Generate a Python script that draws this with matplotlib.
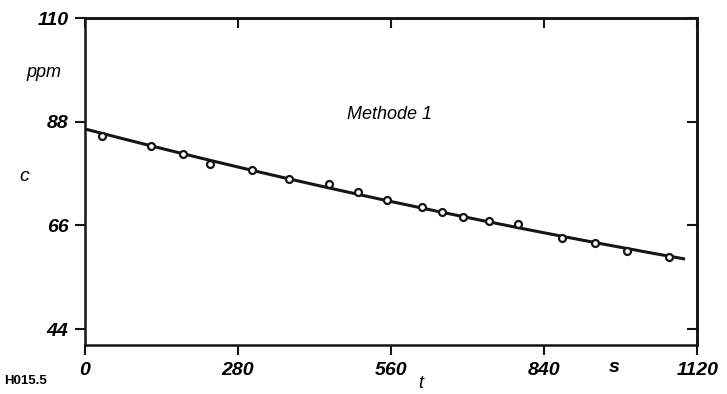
import numpy as np
import matplotlib
matplotlib.use('Agg')
import matplotlib.pyplot as plt

# measured points, Methode 1
t_s = [31, 121, 179, 228, 306, 374, 447, 499, 552, 616, 653, 692, 739, 793, 872, 933, 991, 1068]
c_ppm = [85.0, 82.9, 81.2, 79.1, 77.8, 75.9, 74.7, 73.0, 71.3, 69.9, 68.8, 67.8, 66.9, 66.4, 63.4, 62.3, 60.6, 59.2]

x_ticks = [0, 280, 560, 840, 1120]
y_ticks = [44, 66, 88, 110]

plt.rcParams['font.family'] = ['Liberation Sans', 'DejaVu Sans']

fig = plt.figure(figsize=(7.27, 3.94), dpi=100)
ax = fig.add_axes([0.117, 0.124, 0.842, 0.830])

# exponential fit drawn as the solid line
k, lnc0 = np.polyfit(t_s, np.log(c_ppm), 1)
tt = np.linspace(0, 1095, 200)
ax.plot(tt, np.exp(lnc0 + k * tt), color='#151515', lw=2.2, zorder=2)
ax.plot(t_s, c_ppm, 'o', ms=5, mfc='white', mec='#151515', mew=1.6, zorder=3)

ax.set_xlim(0, 1120)
ax.set_ylim(40.6, 110)
ax.set_xticks(x_ticks)
ax.set_yticks(y_ticks)
ax.set_xticklabels([str(v) for v in x_ticks], fontsize=14, style='italic', weight='bold')
ax.set_yticklabels([str(v) for v in y_ticks], fontsize=14, style='italic', weight='bold')
ax.tick_params(axis='both', direction='out', length=7, width=1.5, pad=5, color='#151515')
for s in ax.spines.values():
    s.set_linewidth(1.8)
    s.set_color('#151515')

# inward ticks on the top and right frame
top = ax.secondary_xaxis('top')
top.set_xticks(x_ticks)
top.tick_params(direction='in', length=7, width=1.5, labeltop=False, color='#151515')
top.spines['top'].set_linewidth(1.8)
right = ax.secondary_yaxis('right')
right.set_yticks(y_ticks)
right.tick_params(direction='in', length=7, width=1.5, labelright=False, color='#151515')
right.spines['right'].set_linewidth(1.8)

ax.text(480, 89.5, 'Methode 1', fontsize=13, style='italic', va='center', ha='left')

fig.text(0.061, 0.815, 'ppm', fontsize=13, style='italic', ha='center', va='center')
fig.text(0.034, 0.553, 'c', fontsize=14, style='italic', ha='center', va='center')
fig.text(0.845, 0.068, 's', fontsize=14, style='italic', weight='bold', ha='center', va='center')
fig.text(0.578, 0.004, 't', fontsize=13, style='italic', ha='center', va='bottom')
fig.text(0.006, 0.032, 'H015.5', fontsize=9.5, weight='bold', ha='left', va='center')

fig.savefig('out.png', dpi=100)
